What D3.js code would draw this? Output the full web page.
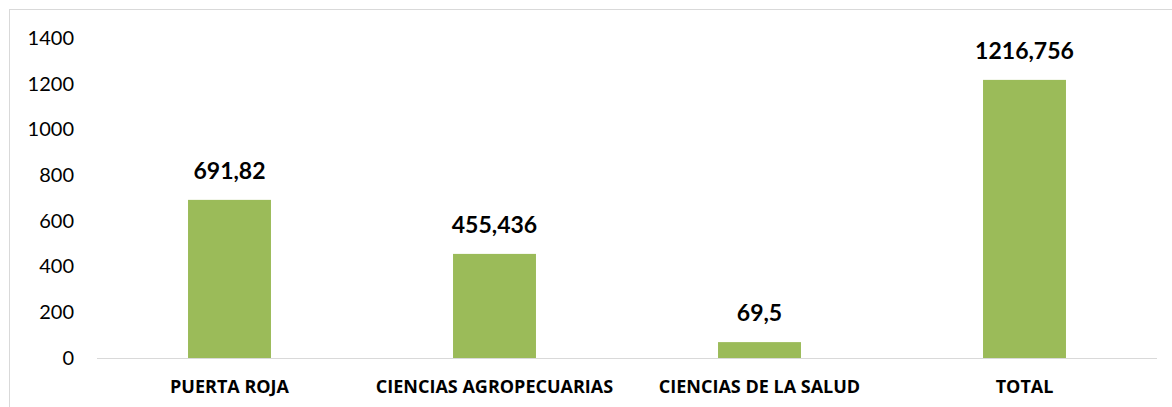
<!DOCTYPE html>
<html>
<head>
<meta charset="utf-8">
<script src="https://cdn.jsdelivr.net/npm/d3@7"></script>
<style>
  body { margin: 0; background: #fff; }
  svg { font-family: Lato, "Open Sans", sans-serif; }
</style>
</head>
<body>
<div id="chart"></div>
<script>
// data
var categories = ["PUERTA ROJA", "CIENCIAS AGROPECUARIAS", "CIENCIAS DE LA SALUD", "TOTAL"];
var values = [691.82, 455.436, 69.5, 1216.756];
var valueLabels = ["691,82", "455,436", "69,5", "1216,756"];
var yTicks = [0, 200, 400, 600, 800, 1000, 1200, 1400];

var W = 1172, H = 407;
var margin = {top: 38, right: 15, bottom: 49, left: 97},
    width = W - margin.left - margin.right,
    height = H - margin.top - margin.bottom;

var svg = d3.select("#chart").append("svg")
    .attr("width", W)
    .attr("height", H);

// chart border
svg.append("rect")
    .attr("x", 9.5).attr("y", 9.5)
    .attr("width", W + 10).attr("height", H + 10)
    .attr("fill", "none")
    .attr("stroke", "#d9d9d9")
    .attr("stroke-width", 1);

var g = svg.append("g")
    .attr("transform", "translate(" + margin.left + "," + margin.top + ")");

var data = categories.map(function (c, i) {
    return {cat: c, value: values[i], label: valueLabels[i]};
});

var x = d3.scaleBand()
    .domain(categories)
    .range([0, 1060])
    .paddingInner(0.687)
    .paddingOuter(0.3435);

var y = d3.scaleLinear()
    .domain([0, 1400])
    .range([height, 0]);

// y axis (labels only)
var yAxis = g.append("g")
    .call(d3.axisLeft(y).tickValues(yTicks).tickFormat(d3.format("d")).tickSize(0).tickPadding(23))
yAxis.select(".domain").remove();
yAxis.selectAll("text")
    .attr("font-size", 20)
    .attr("font-family", "Lato, 'Open Sans', sans-serif")
    .attr("fill", "#000");

// bars
g.selectAll(".bar")
    .data(data)
    .enter()
    .append("rect")
    .attr("class", "bar")
    .attr("x", function (d) { return x(d.cat); })
    .attr("y", function (d) { return y(d.value); })
    .attr("width", x.bandwidth())
    .attr("height", function (d) { return height - y(d.value); })
    .attr("fill", "#9bbb59");

// baseline
g.append("line")
    .attr("x1", 0).attr("x2", 1060)
    .attr("y1", height + 0.5).attr("y2", height + 0.5)
    .attr("stroke", "#d9d9d9")
    .attr("stroke-width", 1);

// value labels
g.selectAll(".val")
    .data(data)
    .enter()
    .append("text")
    .attr("class", "val")
    .attr("x", function (d) { return x(d.cat) + x.bandwidth() / 2; })
    .attr("y", function (d) { return y(d.value) - 21; })
    .attr("text-anchor", "middle")
    .attr("font-size", 23)
    .attr("font-weight", "bold")
    .attr("fill", "#000")
    .text(function (d) { return d.label; });

// category labels
var xAxis = g.append("g")
    .attr("transform", "translate(0," + height + ")")
    .call(d3.axisBottom(x).tickSize(0).tickPadding(22));
xAxis.select(".domain").remove();
xAxis.selectAll("text")
    .attr("font-size", 18)
    .attr("font-weight", "bold")
    .attr("font-family", "'Open Sans', Lato, sans-serif")
    .attr("fill", "#000");
</script>
</body>
</html>
